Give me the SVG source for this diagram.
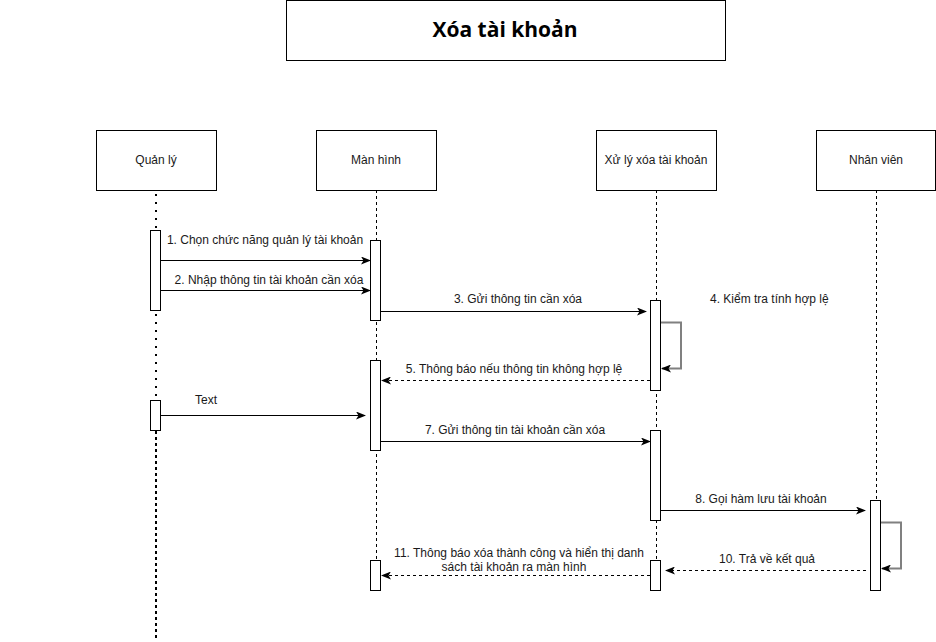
<svg xmlns="http://www.w3.org/2000/svg" width="936" height="642" viewBox="0 0 936 642">
<defs>
<marker id="ah" viewBox="0 0 10 8" refX="9" refY="4" markerWidth="10" markerHeight="8" markerUnits="userSpaceOnUse" orient="auto">
<path d="M0,0 L10,4 L0,8 L2.5,4 z" fill="#000"/>
</marker>
<style>
.box{fill:#fff;stroke:#000;stroke-width:1}
.act{fill:#fff;stroke:#000;stroke-width:1}
.life{stroke:#000;stroke-width:1;stroke-dasharray:3 3;fill:none}
.dots{stroke:#000;stroke-width:2;stroke-dasharray:2 6;fill:none}
.thickdash{stroke:#000;stroke-width:2;stroke-dasharray:3 3;fill:none}
.msg{stroke:#000;stroke-width:1;fill:none;marker-end:url(#ah)}
.ret{stroke:#000;stroke-width:1;fill:none;stroke-dasharray:3 3;marker-end:url(#ah)}
.self{stroke:#808080;stroke-width:2;fill:none;marker-end:url(#ah)}
text{font-family:"Liberation Sans",Arial,sans-serif;font-size:12px;fill:#1a1a1a}
.c{text-anchor:middle}
.title{font-family:"Open Sans","Noto Sans",sans-serif;font-size:21px;font-weight:bold;fill:#000}
</style>
</defs>
<g id="title">
<rect class="box" x="286.5" y="0.5" width="439" height="60"/>
<text class="title c" x="505" y="37">Xóa tài khoản</text>
</g>
<g id="lifelines">
<line class="dots" x1="156" y1="194" x2="156" y2="230"/>
<line class="dots" x1="156" y1="314" x2="156" y2="400"/>
<line class="thickdash" x1="156" y1="431" x2="156" y2="640"/>
<line class="life" x1="376.5" y1="190" x2="376.5" y2="590"/>
<line class="life" x1="656.5" y1="190" x2="656.5" y2="590"/>
<line class="life" x1="876.5" y1="190" x2="876.5" y2="590"/>
</g>
<g id="actor-quanly">
<rect class="box" x="96.5" y="130.5" width="120" height="60"/>
<text class="c" x="156" y="164">Quản lý</text>
</g>
<g id="actor-manhinh">
<rect class="box" x="316.5" y="130.5" width="120" height="60"/>
<text class="c" x="376" y="164">Màn hình</text>
</g>
<g id="actor-xuly">
<rect class="box" x="596.5" y="130.5" width="120" height="60"/>
<text class="c" x="656" y="164">Xử lý xóa tài khoản</text>
</g>
<g id="actor-nhanvien">
<rect class="box" x="816.5" y="130.5" width="119" height="60"/>
<text class="c" x="876" y="164">Nhân viên</text>
</g>
<g id="activations">
<rect class="act" x="150.5" y="230.5" width="10" height="80"/>
<rect class="act" x="150.5" y="400.5" width="10" height="30"/>
<rect class="act" x="370.5" y="240.5" width="10" height="80"/>
<rect class="act" x="370.5" y="360.5" width="10" height="90"/>
<rect class="act" x="370.5" y="560.5" width="10" height="30"/>
<rect class="act" x="650.5" y="300.5" width="10" height="90"/>
<rect class="act" x="650.5" y="430.5" width="10" height="90"/>
<rect class="act" x="650.5" y="560.5" width="10" height="30"/>
<rect class="act" x="870.5" y="500.5" width="10" height="90"/>
</g>
<g id="connectors">
<line class="msg" x1="161" y1="260.5" x2="370" y2="260.5"/>
<line class="msg" x1="161" y1="290.5" x2="370" y2="290.5"/>
<line class="msg" x1="381" y1="311.5" x2="646" y2="311.5"/>
<polyline class="self" points="661,322.5 681,322.5 681,368.5 662,368.5"/>
<line class="ret" x1="650" y1="380.5" x2="382" y2="380.5"/>
<line class="msg" x1="161" y1="415.5" x2="365" y2="415.5"/>
<line class="msg" x1="381" y1="441.5" x2="650" y2="441.5"/>
<line class="msg" x1="661" y1="510.5" x2="865" y2="510.5"/>
<polyline class="self" points="881,522.5 901,522.5 901,568.5 882,568.5"/>
<line class="ret" x1="866" y1="570.5" x2="666" y2="570.5"/>
<line class="ret" x1="650" y1="575.5" x2="382" y2="575.5"/>
</g>
<g id="labels">
<text class="c" x="265" y="244">1. Chọn chức năng quản lý tài khoản</text>
<text class="c" x="269" y="284">2. Nhập thông tin tài khoản cần xóa</text>
<text class="c" x="518" y="303">3. Gửi thông tin cần xóa</text>
<text x="710" y="303">4. Kiểm tra tính hợp lệ</text>
<text class="c" x="514" y="373">5. Thông báo nếu thông tin không hợp lệ</text>
<text x="195" y="404">Text</text>
<text class="c" x="515" y="434">7. Gửi thông tin tài khoản cần xóa</text>
<text class="c" x="761" y="503">8. Gọi hàm lưu tài khoản</text>
<text class="c" x="767" y="563">10. Trả về kết quả</text>
<text class="c" x="519" y="557">11. Thông báo xóa thành công và hiển thị danh</text>
<text class="c" x="514" y="571">sách tài khoản ra màn hình</text>
</g>
</svg>
